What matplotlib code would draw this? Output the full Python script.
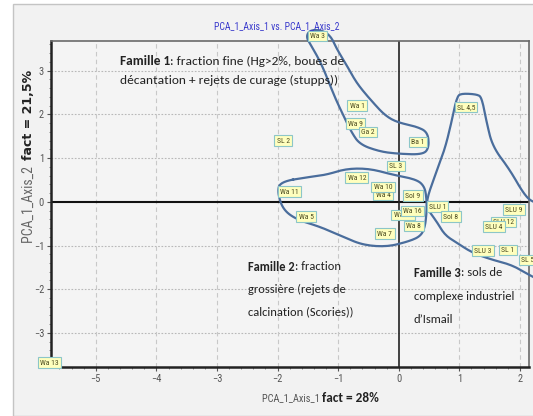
import numpy as np
import matplotlib.pyplot as plt
from matplotlib.patches import Rectangle

# ---------------------------------------------------------
# data
# ---------------------------------------------------------
sample_names = ["Wa 3", "Wa 1", "Wa 9", "Ga 2", "Ba 1", "SL 2", "SL 4,5", "SL 3",
                "Wa 12", "Wa 11", "Wa 4", "Wa 10", "Sol 9", "Wa 5", "Wa 14",
                "Wa 16", "Wa 8", "Wa 7", "SLU 1", "Sol 8", "SLU 9", "SLU 12",
                "SLU 4", "SLU 3", "SL 1", "SL 5", "Wa 13"]
axis1 = [-1.34, -0.69, -0.71, -0.51, 0.31, -1.91, 1.11, -0.05,
         -0.69, -1.80, -0.26, -0.26, 0.23, -1.53, 0.07,
         0.23, 0.25, -0.23, 0.64, 0.86, 1.90, 1.73,
         1.57, 1.39, 1.80, 2.13, -5.76]
axis2 = [3.79, 2.20, 1.79, 1.60, 1.37, 1.40, 2.17, 0.82,
         0.55, 0.23, 0.16, 0.34, 0.14, -0.34, -0.30,
         -0.21, -0.55, -0.73, -0.11, -0.34, -0.18, -0.46,
         -0.57, -1.12, -1.10, -1.33, -3.68]

x_ticks = [-5, -4, -3, -2, -1, 0, 1, 2]
y_ticks = [-3, -2, -1, 0, 1, 2, 3]

# hand-drawn family outlines (data coords)
famille1_x = [-1.47, -1.27, -1.12, -1.02, -0.89, -0.73, -0.61, -0.43, -0.23, -0.03,
              0.30, 0.48, 0.50, 0.40, -0.02, -0.31, -0.64, -0.78, -0.94, -1.06,
              -1.17, -1.30, -1.44, -1.53]
famille1_y = [3.93, 3.93, 3.79, 3.49, 3.20, 2.80, 2.57, 2.28, 1.98, 1.82,
              1.72, 1.59, 1.24, 1.08, 1.10, 1.15, 1.31, 1.59, 2.05, 2.41,
              2.80, 3.22, 3.56, 3.77]
famille2_x = [-1.96, -1.47, -1.19, -0.86, -0.48, -0.10, 0.30, 0.43, 0.46, 0.46,
              0.43, 0.35, 0.13, -0.20, -0.59, -0.92, -1.30, -1.68, -1.91, -2.00]
famille2_y = [0.46, 0.57, 0.62, 0.76, 0.76, 0.62, 0.51, 0.34, 0.05, -0.25,
              -0.60, -0.80, -0.92, -1.03, -0.99, -0.80, -0.57, -0.41, -0.18, 0.21]
famille3_x = [2.41, 2.21, 1.88, 1.55, 1.22, 0.96, 0.76, 0.63, 0.48, 0.46, 0.59,
              0.76, 0.87, 0.96, 1.04, 1.29, 1.37, 1.45, 1.55, 1.83, 2.05, 2.19, 2.41]
famille3_y = [-1.84, -1.72, -1.45, -1.33, -1.17, -0.94, -0.76, -0.46, -0.18, 0.05, 0.57,
              1.20, 1.82, 2.41, 2.48, 2.46, 2.39, 1.82, 1.26, 0.74, 0.21, 0.00, -0.07]

# annotation texts: x, y of each line, bold head, rest of line 1, further lines, size
famille_texts = [
    (-4.60, [3.22, 2.77], "Famille 1", ": fraction fine (Hg>2%, boues de",
     ["décantation + rejets de curage (stupps))"], 9.6),
    (-2.49, [-1.49, -2.01, -2.52], "Famille 2", ": fraction",
     ["grossière (rejets de", "calcination (Scories))"], 9),
    (0.25, [-1.62, -2.17, -2.70], "Famille 3", ": sols de",
     ["complexe industriel", "d’Ismail"], 9),
]


def chaikin(xs, ys, n=3, closed=True):
    pts = np.column_stack([xs, ys])
    for _ in range(n):
        if closed:
            nxt = np.roll(pts, -1, axis=0)
        else:
            nxt = pts[1:]
            pts = pts[:-1]
        q = 0.75 * pts + 0.25 * nxt
        r = 0.25 * pts + 0.75 * nxt
        new = np.empty((2 * len(q), 2))
        new[0::2] = q
        new[1::2] = r
        pts = new
    if closed:
        pts = np.vstack([pts, pts[:1]])
    return pts[:, 0], pts[:, 1]


W, H = 533, 416
calibri = ["Carlito", "Open Sans", "DejaVu Sans"]
narrow = ["Roboto Condensed", "PT Sans Narrow", "Archivo Narrow", "DejaVu Sans"]

fig = plt.figure(figsize=(W / 100, H / 100), dpi=100, facecolor="white")
fig.patches.append(Rectangle((13 / W, 0), 1, 1 - 4 / H, transform=fig.transFigure,
                             fc="#f2f2f2", ec="#c4c4c4", lw=1.0, zorder=-5))

ax = fig.add_axes([51 / W, 1 - 367 / H, (529 - 51) / W, (367 - 41) / H])
ax.set_facecolor("#f4f4f4")
ax.set_xlim(-5.74, 2.15)
ax.set_ylim(-3.78, 3.68)

# grid
for yv in y_ticks:
    if yv != 0:
        ax.axhline(yv, color="#b8b8b8", lw=0.8, ls=(0, (1.5, 1.5)), zorder=0)
for xv in x_ticks:
    if xv != 0:
        ax.axvline(xv, color="#c8c8c8", lw=0.8, ls=(0, (4, 3)), zorder=0)
ax.axhline(0, color="#111111", lw=1.5, zorder=1)
ax.axvline(0, color="#222222", lw=1.2, zorder=1)

# spines
for s in ("left", "bottom"):
    ax.spines[s].set_color("#222222")
    ax.spines[s].set_linewidth(1.8)
for s in ("top", "right"):
    ax.spines[s].set_color("#6a6a6a")
    ax.spines[s].set_linewidth(1.2)

ax.set_xticks(x_ticks)
ax.set_yticks(y_ticks)
ax.set_xticks(np.arange(-5.6, 2.2, 0.2), minor=True)
ax.set_yticks(np.arange(-3.6, 3.7, 0.2), minor=True)
ax.tick_params(which="major", length=3, width=0.8, color="#555555", labelsize=7.5,
               labelcolor="#555555", pad=2)
ax.tick_params(which="minor", length=1.5, width=0.6, color="#777777")
for lab in ax.get_xticklabels() + ax.get_yticklabels():
    lab.set_family(narrow)

# family outlines
for fx, fy, closed in ((famille1_x, famille1_y, True),
                       (famille2_x, famille2_y, True),
                       (famille3_x, famille3_y, False)):
    sx, sy = chaikin(fx, fy, 3, closed)
    ax.plot(sx, sy, color="#4a6d9c", lw=1.6, zorder=3, clip_on=False)

# sample labels
for name, px, py in zip(sample_names, axis1, axis2):
    ax.text(px, py, name, fontsize=5.5, family=narrow, color="#4a4a20",
            ha="center", va="center", zorder=5, clip_on=False,
            bbox=dict(boxstyle="square,pad=0.3", fc="#ffffbe", ec="#8cc6c8", lw=0.8))

# family annotations
for x0, ys, head, rest, more, size in famille_texts:
    t = ax.text(x0, ys[0], head, fontsize=size, fontweight="bold", family=calibri,
                color="#222222", ha="left", va="center", zorder=6)
    ax.annotate(rest, xy=(1, 0.5), xycoords=t, fontsize=size, family=calibri,
                color="#222222", ha="left", va="center", zorder=6)
    for yl, line in zip(ys[1:], more):
        ax.text(x0, yl, line, fontsize=size, family=calibri, color="#222222",
                ha="left", va="center", zorder=6)

# title and axis labels
fig.text(277 / W, 1 - 26 / H, "PCA_1_Axis_1 vs. PCA_1_Axis_2", fontsize=7,
         family=narrow, color="#3a3acc", ha="center", va="center")

tx = fig.text(262 / W, 1 - 398 / H, "PCA_1_Axis_1 ", fontsize=7.5, family=narrow,
              color="#555555", ha="left", va="center")
ax.annotate("fact = 28%", xy=(1, 0.5), xycoords=tx, fontsize=9.5, fontweight="bold",
            family=calibri, color="#222222", ha="left", va="center",
            annotation_clip=False)

ty = fig.text(29 / W, 1 - 243 / H, "PCA_1_Axis_2  ", fontsize=10, family=narrow,
              color="#666666", rotation=90, ha="center", va="bottom")
ax.annotate("fact = 21,5%", xy=(0.5, 1), xycoords=ty, fontsize=9, fontweight="bold",
            family="DejaVu Sans", color="#222222", rotation=90, ha="center",
            va="bottom", annotation_clip=False)

fig.savefig("out.png", dpi=100, facecolor=fig.get_facecolor())
